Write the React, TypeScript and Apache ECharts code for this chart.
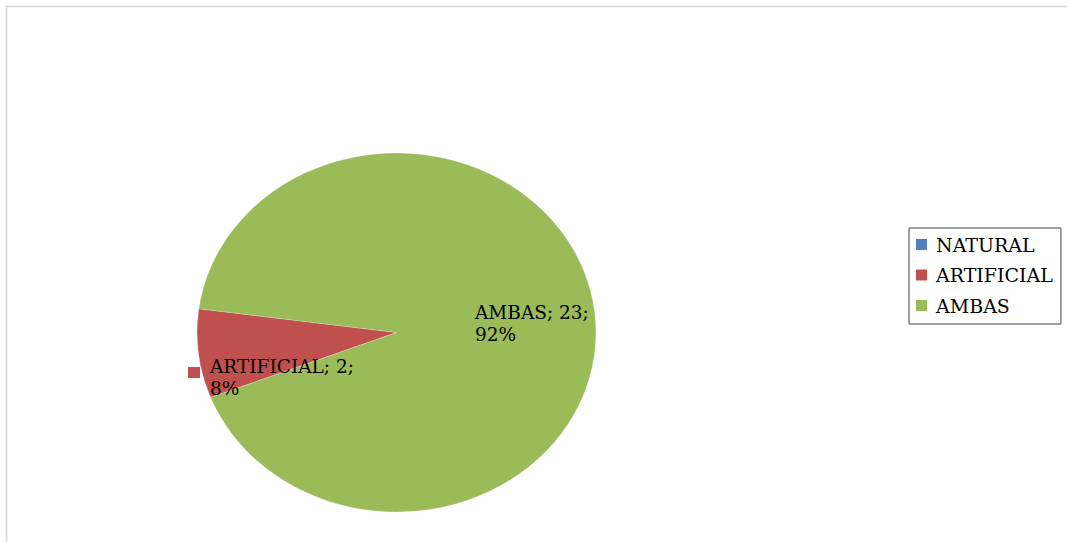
import React, { useEffect, useRef } from "react";
import * as echarts from "echarts";

const categories = ["NATURAL", "ARTIFICIAL", "AMBAS"];
const values = [0, 2, 23];
const colors = ["#4F81BD", "#C0504D", "#9BBB59"];

const FONT = "'DejaVu Serif', 'Liberation Serif', serif";
const CX = 396.5;
const CY = 332.5;
const RX = 199.5;
const RY = 179.5;
const START_ANGLE = 201.2; // degrees, math convention, slices run clockwise on screen

const labelPos: Record<string, { dx: number; dy: number; key: boolean }> = {
  ARTIFICIAL: { dx: 210 - CX, dy: 355 - CY, key: true },
  AMBAS: { dx: 475 - CX, dy: 301 - CY, key: false },
};

export default function App() {
  const ref = useRef<HTMLDivElement>(null);
  useEffect(() => {
    if (!ref.current) return;
    const chart = echarts.init(ref.current, undefined, { renderer: "svg" });
    const total = values.reduce((a, b) => a + b, 0);
    const cum: number[] = [];
    let acc = 0;
    values.forEach((v) => {
      cum.push(acc);
      acc += v;
    });

    const series = categories.map((name, i) => ({
      type: "custom",
      name,
      coordinateSystem: "none",
      silent: true,
      itemStyle: { color: colors[i] },
      data: [values[i]],
      renderItem: () => {
        const v = values[i];
        if (!v) return { type: "group", children: [] };
        const a0 = START_ANGLE - (cum[i] / total) * 360;
        const a1 = a0 - (v / total) * 360;
        const s = (-a0 * Math.PI) / 180;
        const e = (-a1 * Math.PI) / 180;
        const children: any[] = [
          {
            type: "sector",
            x: CX,
            y: CY,
            scaleX: RX / RY,
            scaleY: 1,
            shape: { cx: 0, cy: 0, r: RY, r0: 0, startAngle: s, endAngle: e, clockwise: true },
            style: { fill: colors[i], stroke: "rgba(255,255,255,0.35)", lineWidth: 0.6 },
          },
        ];
        const lp = labelPos[name];
        if (lp) {
          const pct = Math.round((v / total) * 100);
          children.push({
            type: "text",
            x: CX + lp.dx,
            y: CY + lp.dy,
            z2: 10,
            style: {
              text: `${name}; ${v};\n${pct}%`,
              fill: "#000",
              fontSize: 18.5,
              fontFamily: FONT,
              lineHeight: 22,
              align: "left",
              verticalAlign: "top",
            },
          });
          if (lp.key) {
            children.push({
              type: "rect",
              z2: 10,
              shape: { x: CX + lp.dx - 22, y: CY + lp.dy + 12, width: 12, height: 11 },
              style: { fill: colors[i] },
            });
          }
        }
        return { type: "group", children };
      },
    }));

    chart.setOption({
      animation: false,
      backgroundColor: "#ffffff",
      legend: {
        orient: "vertical",
        left: 909,
        top: 228,
        data: categories,
        icon: "rect",
        itemWidth: 11,
        itemHeight: 11,
        itemGap: 11.5,
        padding: [7, 8, 9, 7],
        borderColor: "#404040",
        borderWidth: 1,
        selectedMode: false,
        textStyle: {
          fontFamily: FONT,
          fontSize: 19,
          color: "#000",
          lineHeight: 18,
          padding: [0, 0, 0, 4],
        },
      },
      graphic: [
        {
          type: "rect",
          shape: { x: 6.5, y: 6.5, width: 1080, height: 560 },
          style: { fill: "none", stroke: "#d6d6d6", lineWidth: 1.5 },
          silent: true,
        },
      ],
      series,
    });
    return () => chart.dispose();
  }, []);
  return (
    <div
      ref={ref}
      style={{ position: "fixed", left: 0, top: 0, width: 1067, height: 542 }}
    />
  );
}
